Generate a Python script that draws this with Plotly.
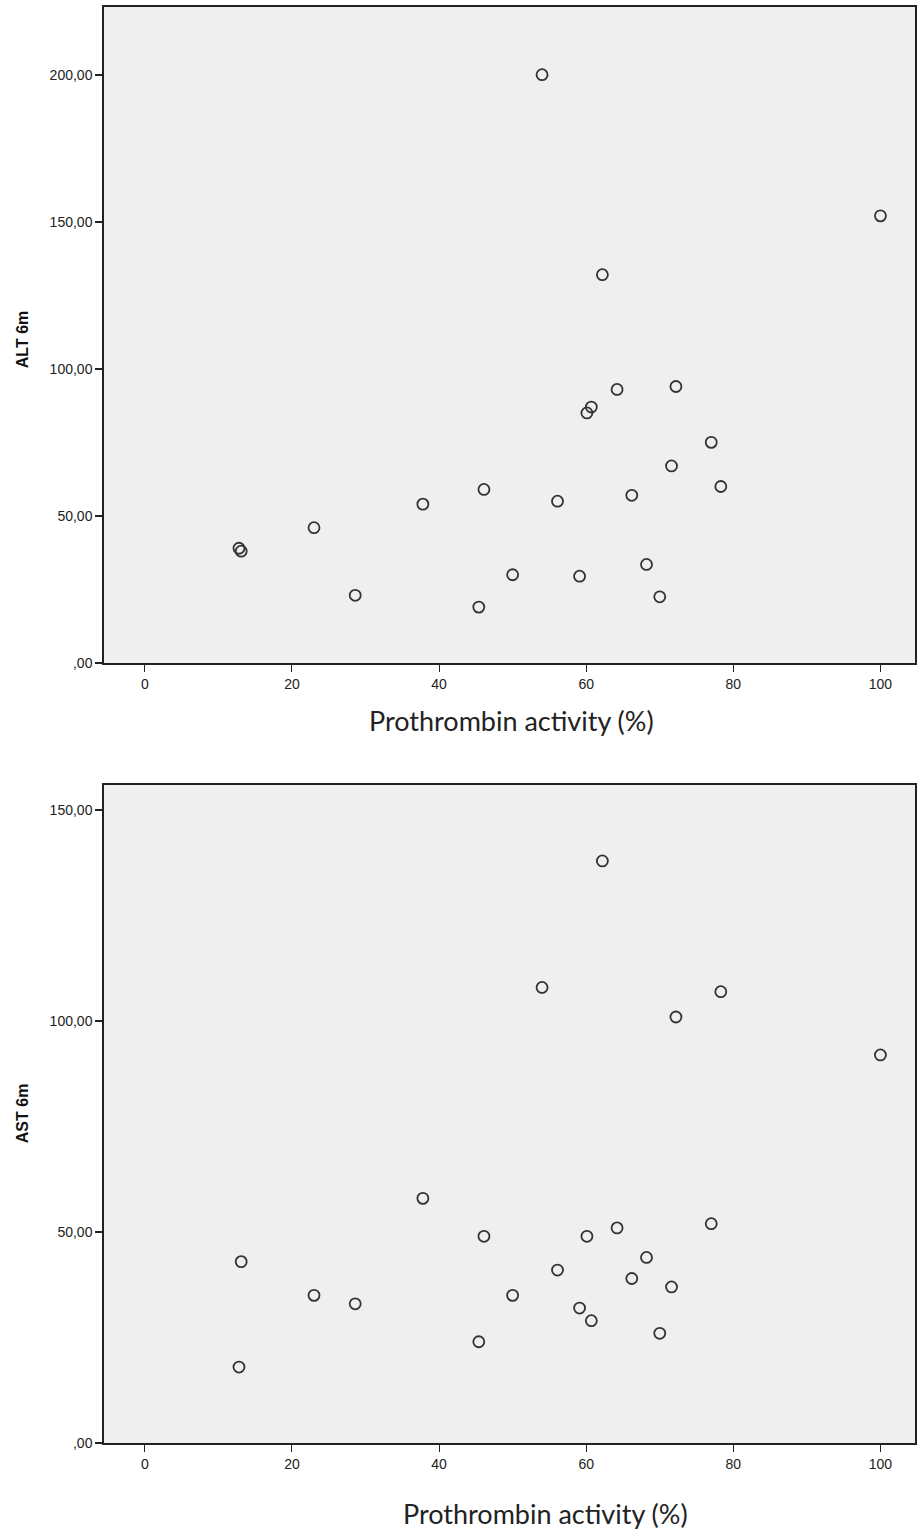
import plotly.graph_objects as go

# Data
prothrombin = [54.0, 100.0, 62.2, 64.2, 72.2, 60.7, 60.1, 77.0, 71.6, 78.3, 46.1, 56.1,
               66.2, 37.8, 23.0, 12.8, 13.1, 50.0, 59.1, 68.2, 28.6, 70.0, 45.4]
alt_6m = [200, 152, 132, 93, 94, 87, 85, 75, 67, 60, 59, 55,
          57, 54, 46, 39, 38, 30, 29.5, 33.5, 23, 22.5, 19]
ast_6m = [108, 92, 138, 51, 101, 29, 49, 52, 37, 107, 49, 41,
          39, 58, 35, 18, 43, 35, 32, 44, 33, 26, 24]

x_ticks = [0, 20, 40, 60, 80, 100]
alt_ticks = [0, 50, 100, 150, 200]
alt_tick_labels = [",00", "50,00", "100,00", "150,00", "200,00"]
ast_ticks = [0, 50, 100, 150]
ast_tick_labels = [",00", "50,00", "100,00", "150,00"]

x_title = "Prothrombin activity (%)"
alt_title = "ALT 6m"
ast_title = "AST 6m"

marker = dict(symbol="circle-open", size=11, color="#333333", line=dict(width=1.8, color="#333333"))

fig = go.Figure()
fig.add_trace(go.Scatter(x=prothrombin, y=alt_6m, mode="markers", marker=marker,
                         xaxis="x", yaxis="y", showlegend=False))
fig.add_trace(go.Scatter(x=prothrombin, y=ast_6m, mode="markers", marker=marker,
                         xaxis="x2", yaxis="y2", showlegend=False))

W, H = 917, 1531
ml, mr, mt, mb = 104, 0, 7, 88
ph = H - mt - mb

def fy(p):
    return (H - mb - p) / ph

def fx(p):
    return (p - ml) / (W - ml - mr)

tick_font = dict(family="Liberation Sans, Arial, sans-serif", size=14, color="#222222")
common_x = dict(range=[-5.55, 104.7], tickvals=x_ticks, ticks="outside", ticklen=7, tickwidth=1.2,
                tickcolor="#222222", showgrid=False, zeroline=False, showline=True, linecolor="#222222",
                linewidth=1.5, mirror=True, tickfont=tick_font)
common_y = dict(ticks="outside", ticklen=7, tickwidth=1.5, tickcolor="#222222", showgrid=False,
                zeroline=False, showline=True, linecolor="#222222", linewidth=1.5, mirror=True,
                tickfont=tick_font)

title_font = dict(family="Lato, Liberation Sans, Arial", size=27, color="#222222")

fig.update_layout(
    width=W, height=H,
    margin=dict(l=ml, r=mr, t=mt, b=mb),
    paper_bgcolor="white",
    plot_bgcolor="#efefef",
    xaxis=dict(domain=[0, 1], anchor="y", **common_x),
    yaxis=dict(domain=[fy(663), 1], anchor="x", range=[0, 223], tickvals=alt_ticks,
               ticktext=alt_tick_labels, **common_y),
    xaxis2=dict(domain=[0, 1], anchor="y2", **common_x),
    yaxis2=dict(domain=[0, fy(785)], anchor="x2", range=[0, 156], tickvals=ast_ticks,
                ticktext=ast_tick_labels, **common_y),
    annotations=[
        dict(text=x_title, xref="paper", yref="paper", x=fx(513), y=fy(720), showarrow=False,
             xanchor="center", yanchor="middle", font=title_font),
        dict(text=x_title, xref="paper", yref="paper", x=fx(547), y=fy(1513), showarrow=False,
             xanchor="center", yanchor="middle", font=title_font),
        dict(text="<b>" + alt_title + "</b>", xref="paper", yref="paper", x=fx(22), y=fy(340),
             showarrow=False, textangle=-90, xanchor="center", yanchor="middle",
             font=dict(family="Liberation Sans, Arial", size=16, color="#111111")),
        dict(text="<b>" + ast_title + "</b>", xref="paper", yref="paper", x=fx(22), y=fy(1113),
             showarrow=False, textangle=-90, xanchor="center", yanchor="middle",
             font=dict(family="Liberation Sans, Arial", size=16, color="#111111")),
    ],
)

fig.write_html("out.html", config={"displayModeBar": False},
               post_script="document.body.style.margin='0';document.body.style.overflow='hidden';")
